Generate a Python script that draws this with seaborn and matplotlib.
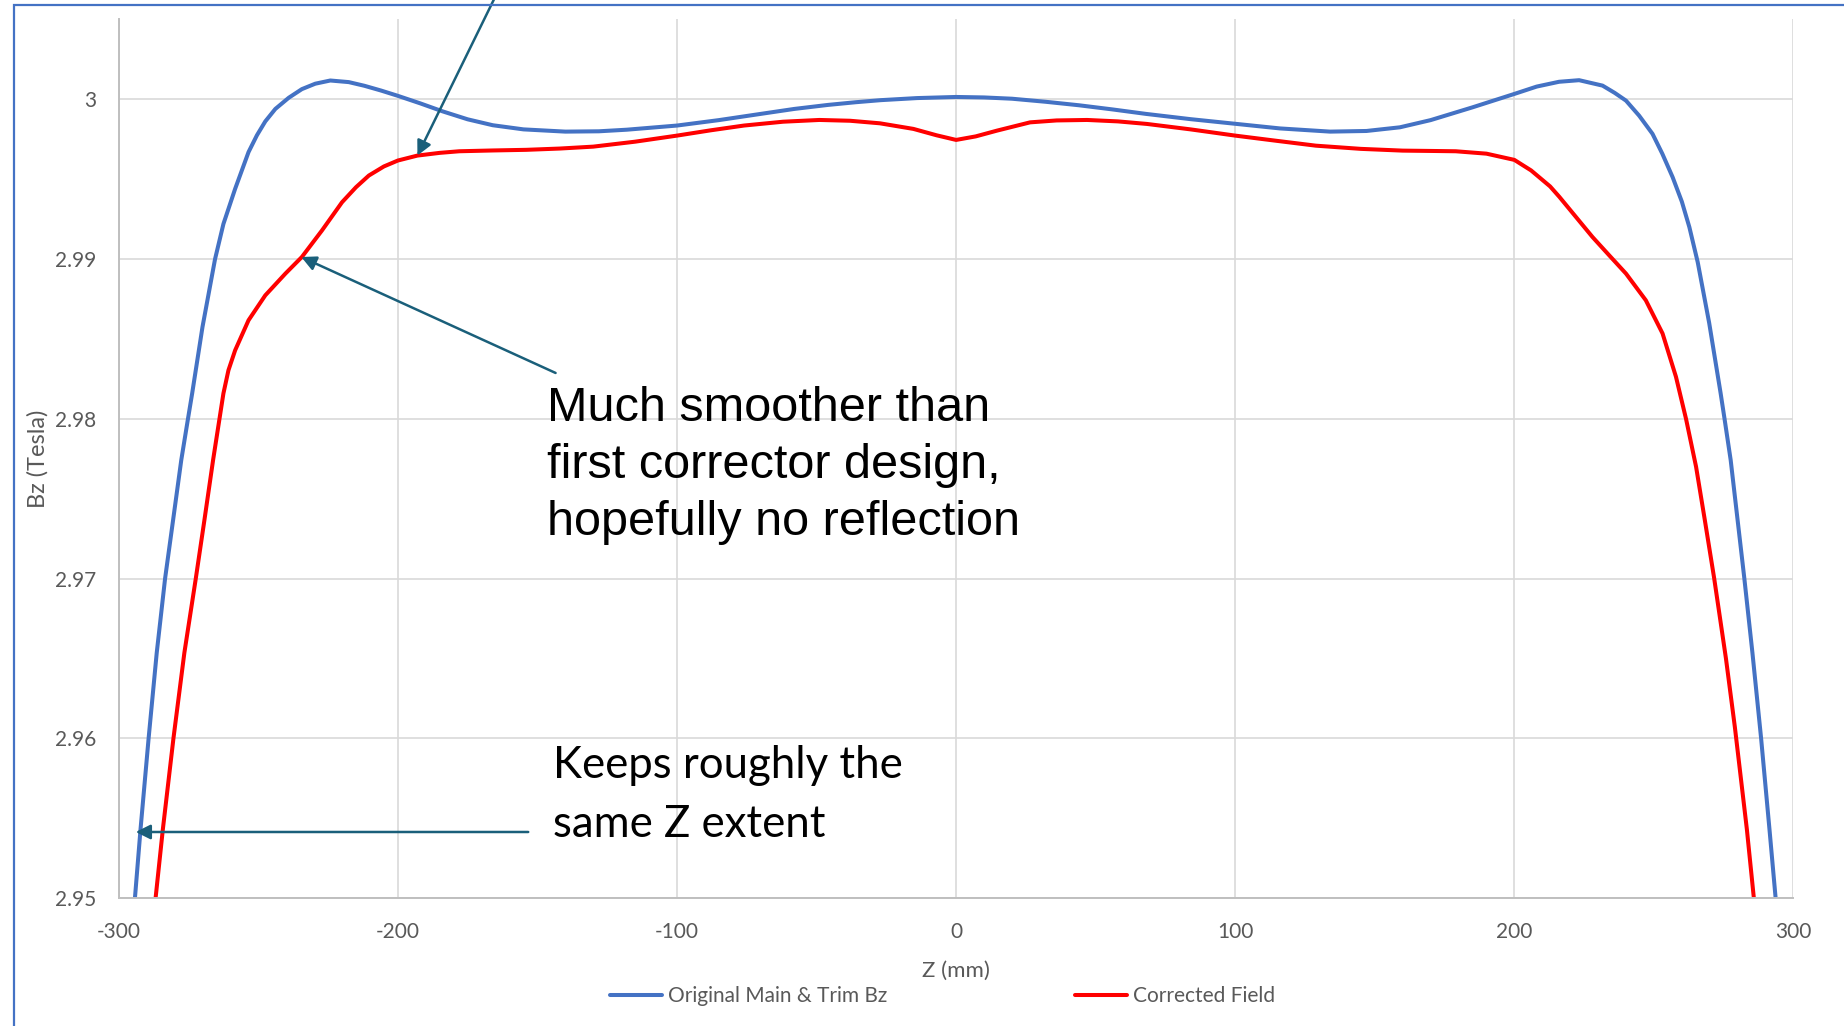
import numpy as np
import pandas as pd
import matplotlib
matplotlib.use("Agg")
import matplotlib.pyplot as plt
import seaborn as sns
from matplotlib.patches import Rectangle

# Bz along the axis
z_orig = [-294.2, -292.2, -289.3, -286.4, -283.4, -280.5, -277.6, -275.2, -273.7, -270.0,
          -265.5, -262.5, -258.3, -253.5, -250.5, -247.5, -243.9, -239.1, -234.4, -229.6,
          -224.2, -217.6, -212.0, -206.0, -200.0, -192.0, -184.0, -175.0, -166.0, -155.0,
          -140.0, -128.0, -118.0, -100.0, -85.0, -70.0, -58.0, -46.0, -36.0, -27.0,
          -14.0, 0.0, 10.0, 20.0, 32.0, 44.0, 56.0, 68.0, 84.0, 100.0,
          116.0, 134.0, 147.0, 159.0, 170.0, 185.0, 200.0, 208.0, 216.0, 223.2,
          231.6, 236.0, 240.0, 244.7, 249.5, 253.0, 256.7, 260.0, 262.7, 265.7,
          269.8, 273.9, 275.3, 277.5, 282.4, 285.3, 288.4, 291.4, 293.6]
bz_orig = [2.95000, 2.95430, 2.96000, 2.96534, 2.97000, 2.97370, 2.97742, 2.98000, 2.98159, 2.98575,
           2.99000, 2.99220, 2.99440, 2.99670, 2.99775, 2.99862, 2.99940, 3.00010, 3.00064, 3.00098,
           3.00118, 3.00108, 3.00085, 3.00055, 3.00022, 2.99975, 2.99925, 2.99875, 2.99838, 2.99812,
           2.99798, 2.99800, 2.99810, 2.99836, 2.99870, 2.99909, 2.99940, 2.99965, 2.99982, 2.99995,
           3.00008, 3.00015, 3.00012, 3.00004, 2.99985, 2.99963, 2.99937, 2.99909, 2.99876, 2.99847,
           2.99818, 2.99798, 2.99802, 2.99825, 2.99870, 2.99950, 3.00034, 3.00080, 3.00110, 3.00120,
           3.00086, 3.00040, 2.99992, 2.99898, 2.99784, 2.99660, 2.99513, 2.99360, 2.99200, 2.98980,
           2.98600, 2.98160, 2.98000, 2.97742, 2.97000, 2.96534, 2.96000, 2.95430, 2.95000]

z_corr = [-286.8, -284.2, -280.4, -276.5, -272.4, -269.3, -266.2, -262.5, -260.7, -258.3,
          -253.5, -247.5, -240.3, -234.4, -227.2, -220.0, -215.0, -210.4, -205.0, -200.0,
          -193.0, -185.0, -178.0, -166.0, -154.0, -142.0, -130.0, -115.0, -100.0, -88.0,
          -76.0, -62.0, -49.0, -38.0, -27.3, -15.3, -7.0, 0.0, 7.0, 14.6,
          26.5, 36.0, 46.9, 58.0, 68.4, 84.0, 100.0, 115.0, 128.9, 145.0,
          160.0, 170.0, 179.0, 190.0, 200.0, 206.0, 212.8, 216.1, 222.0, 228.0,
          234.0, 240.0, 247.1, 253.1, 257.9, 261.5, 265.1, 268.2, 271.6, 275.8,
          279.0, 283.3, 285.8]
bz_corr = [2.95000, 2.95430, 2.96000, 2.96534, 2.97000, 2.97367, 2.97742, 2.98159, 2.98304, 2.98429,
           2.98617, 2.98773, 2.98909, 2.99013, 2.99179, 2.99356, 2.99450, 2.99523, 2.99580, 2.99617,
           2.99648, 2.99665, 2.99675, 2.99680, 2.99684, 2.99692, 2.99704, 2.99735, 2.99773, 2.99806,
           2.99836, 2.99860, 2.99871, 2.99866, 2.99850, 2.99815, 2.99775, 2.99746, 2.99768, 2.99804,
           2.99856, 2.99868, 2.99871, 2.99862, 2.99846, 2.99812, 2.99773, 2.99740, 2.99710, 2.99690,
           2.99679, 2.99677, 2.99675, 2.99660, 2.99621, 2.99555, 2.99455, 2.99390, 2.99265, 2.99138,
           2.99023, 2.98909, 2.98742, 2.98534, 2.98263, 2.98000, 2.97700, 2.97370, 2.97000, 2.96500,
           2.96070, 2.95430, 2.95000]

series_names = ["Original Main & Trim Bz", "Corrected Field"]
x_ticks = [-300, -200, -100, 0, 100, 200, 300]
y_ticks = [2.95, 2.96, 2.97, 2.98, 2.99, 3.0]
y_tick_labels = ["2.95", "2.96", "2.97", "2.98", "2.99", "3"]

df = pd.concat([
    pd.DataFrame({"Z": z_orig, "Bz": bz_orig, "serie": series_names[0]}),
    pd.DataFrame({"Z": z_corr, "Bz": bz_corr, "serie": series_names[1]}),
])

sns.set_theme(style="white")
plt.rcParams["font.family"] = ["Lato", "DejaVu Sans"]

fig = plt.figure(figsize=(18.44, 10.26), dpi=100)
ax = fig.add_axes([0.0644, 0.1248, 0.9082, 0.8562])

sns.lineplot(data=df, x="Z", y="Bz", hue="serie", sort=False, estimator=None,
             palette={series_names[0]: "#4472C4", series_names[1]: "#FF0000"},
             linewidth=2.9, ax=ax)
for ln in ax.lines:
    ln.set_solid_joinstyle("round")

ax.set_xlim(-300, 300)
ax.set_ylim(2.95, 3.005)
ax.set_xticks(x_ticks)
ax.set_xticklabels([str(v) for v in x_ticks])
ax.set_yticks(y_ticks)
ax.set_yticklabels(y_tick_labels)
ax.tick_params(axis="both", length=0, labelsize=15, labelcolor="#595959")
ax.tick_params(axis="y", pad=16)
ax.tick_params(axis="x", pad=17)
ax.grid(True, color="#D9D9D9", linewidth=1.2)
ax.set_axisbelow(True)
for s in ["top", "right"]:
    ax.spines[s].set_visible(False)
for s in ["left", "bottom"]:
    ax.spines[s].set_color("#BFBFBF")
    ax.spines[s].set_linewidth(1.4)

ax.set_xlabel("Z (mm)", fontsize=16, color="#595959", labelpad=14)
ax.set_ylabel("Bz (Tesla)", fontsize=17, color="#595959", labelpad=5)

ax.legend_.remove()
handles, labels = ax.get_legend_handles_labels()
fig.legend(handles, labels, loc="center", bbox_to_anchor=(0.511, 0.029), ncol=2,
           frameon=False, fontsize=15, handlelength=2.5, handletextpad=0.3,
           columnspacing=9, labelcolor="#595959")

arrow_color = "#1A5F7A"
aprops = dict(arrowstyle="-|>", color=arrow_color, lw=1.8, mutation_scale=22, shrinkA=0, shrinkB=0)
ax.annotate("", xy=(-193.0, 2.99648), xytext=(-163.5, 3.0070), arrowprops=aprops, annotation_clip=False)
ax.annotate("", xy=(-234.6, 2.99013), xytext=(-143.5, 2.98287), arrowprops=aprops)
ax.annotate("", xy=(-293.9, 2.95413), xytext=(-153.3, 2.95413), arrowprops=aprops)

ax.text(-146.5, 2.98205, "Much smoother than\nfirst corrector design,\nhopefully no reflection",
        fontsize=35, family=["Liberation Sans", "DejaVu Sans"], color="black",
        va="top", ha="left", linespacing=1.34)
ax.text(-144.5, 2.9596, "Keeps roughly the\nsame Z extent",
        fontsize=31.5, color="black", va="top", ha="left", linespacing=1.55)

fig.patches.append(Rectangle((14.3 / 1844, -0.1), 1.1, 1.1 - 4.7 / 1026, transform=fig.transFigure,
                             fill=False, edgecolor="#4472C4", linewidth=1.6, clip_on=False))

fig.savefig("out.png", dpi=100)
